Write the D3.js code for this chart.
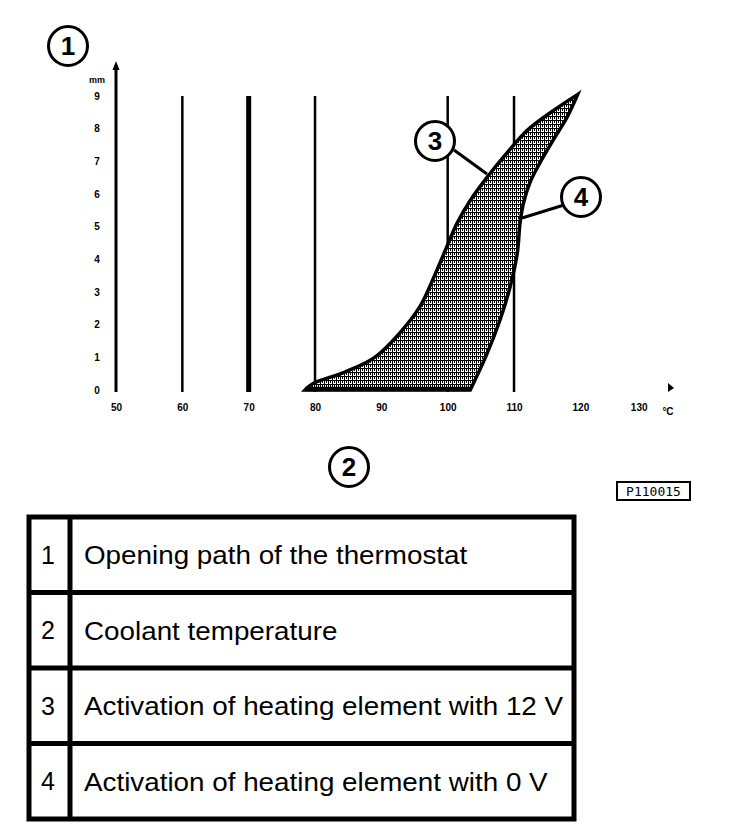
<!DOCTYPE html>
<html>
<head>
<meta charset="utf-8">
<script src="https://cdn.jsdelivr.net/npm/d3@7"></script>
<style>
    body { margin: 0; background: #fff; }
    svg { display: block; }
</style>
</head>
<body>
<div class="data_figure"></div>
<script>
const width = 752;
const height = 834;

// tick values
const xTicks = [50, 60, 70, 80, 90, 100, 110, 120, 130];
const yTicks = [0, 1, 2, 3, 4, 5, 6, 7, 8, 9];

// vertical reference lines (degC) and whether they are drawn heavy
const refLines = [60, 70, 80, 100, 110];
const heavyLines = [70];

// curve 3: heating element at 12 V (temperature, opening in mm)
const curve12V = [
    [78.5, 0], [79.7, 0.2], [84.5, 0.55], [89.0, 1.0], [92.8, 1.75],
    [95.8, 2.55], [97.8, 3.4], [99.9, 4.4], [101.4, 5.1], [103.4, 5.8],
    [105.9, 6.5], [108.9, 7.25], [112.0, 7.95], [115.9, 8.55], [119.6, 9.05]
];
// curve 4: heating element at 0 V
const curve0V = [
    [103.4, 0], [105.9, 1.1], [107.9, 2.15], [109.4, 3.15], [110.5, 4.2],
    [110.9, 5.1], [111.4, 5.7], [112.4, 6.35], [113.9, 6.95], [115.9, 7.65],
    [118.0, 8.35], [119.6, 9.05]
];

// legend table
const legendNums = ["1", "2", "3", "4"];
const legendTexts = [
    "Opening path of the thermostat",
    "Coolant temperature",
    "Activation of heating element with 12 V",
    "Activation of heating element with 0 V"
];

const xScale = d3.scaleLinear().domain([50, 130]).range([116, 646.7]);
const yScale = d3.scaleLinear().domain([0, 9]).range([390, 96]);

let svg = d3.select(".data_figure")
            .append("svg")
            .attr("width", width)
            .attr("height", height);

// fill pattern for the area between the two curves
let defs = svg.append("defs");
let pat = defs.append("pattern")
    .attr("id", "hatch")
    .attr("patternUnits", "userSpaceOnUse")
    .attr("width", 4)
    .attr("height", 4);
pat.append("rect").attr("width", 4).attr("height", 4).attr("fill", "#fff");
pat.append("rect").attr("x", 0).attr("y", 0).attr("width", 1).attr("height", 4).attr("fill", "#000");
pat.append("rect").attr("x", 0).attr("y", 0).attr("width", 4).attr("height", 1).attr("fill", "#000");
pat.append("rect").attr("x", 2).attr("y", 2).attr("width", 1).attr("height", 1).attr("fill", "#000");
pat.append("rect").attr("x", 2).attr("y", 1).attr("width", 1).attr("height", 1).attr("fill", "#000");

// vertical reference lines
svg.selectAll(".refline")
    .data(refLines)
    .enter()
    .append("line")
    .attr("class", "refline")
    .attr("x1", (d) => xScale(d))
    .attr("x2", (d) => xScale(d))
    .attr("y1", yScale(9))
    .attr("y2", yScale(-0.06))
    .attr("stroke", "#000")
    .attr("stroke-width", (d) => heavyLines.includes(d) ? 5 : 2.5);

// y axis with arrow
svg.append("line")
    .attr("x1", xScale(50)).attr("x2", xScale(50))
    .attr("y1", yScale(-0.06)).attr("y2", 66)
    .attr("stroke", "#000").attr("stroke-width", 3);
svg.append("path")
    .attr("d", d3.line()([[xScale(50) - 3.5, 70], [xScale(50), 61], [xScale(50) + 3.5, 70]]) + "Z")
    .attr("fill", "#000");

// x axis arrow tip
svg.append("path")
    .attr("d", d3.line()([[668, 383], [674, 388], [668, 392]]) + "Z")
    .attr("fill", "#000");

// axis tick labels
let yAxis = svg.append("g")
    .attr("transform", "translate(104,0)")
    .call(d3.axisLeft(yScale).tickValues(yTicks).tickSize(0).tickPadding(4));
yAxis.select(".domain").remove();
yAxis.selectAll("text")
    .attr("text-anchor", "middle")
    .attr("x", -7)
    .style("font-family", "'Liberation Sans', Arial, sans-serif")
    .style("font-size", "10px")
    .style("font-weight", "bold");

svg.append("text")
    .text("mm")
    .attr("x", 97)
    .attr("y", 83)
    .attr("text-anchor", "middle")
    .style("font-family", "'Liberation Sans', Arial, sans-serif")
    .style("font-size", "9px")
    .style("font-weight", "bold");

let xAxis = svg.append("g")
    .attr("transform", "translate(0,404)")
    .call(d3.axisBottom(xScale).tickValues(xTicks).tickSize(0).tickPadding(0));
xAxis.select(".domain").remove();
xAxis.selectAll("text")
    .attr("dx", (d) => d === 130 ? "-8" : "0")
    .style("font-family", "'Liberation Sans', Arial, sans-serif")
    .style("font-size", "10px")
    .style("font-weight", "bold");

svg.append("text")
    .text("°C")
    .attr("x", 668)
    .attr("y", 415)
    .attr("text-anchor", "middle")
    .style("font-family", "'Liberation Sans', Arial, sans-serif")
    .style("font-size", "10px")
    .style("font-weight", "bold");

// area between the curves
const line = d3.line()
    .x((d) => xScale(d[0]))
    .y((d) => yScale(d[1]))
    .curve(d3.curveCatmullRom);

const upPath = line(curve12V);
const downPath = line(curve0V.slice().reverse()).replace(/^M/, "L");

svg.append("path")
    .attr("d", upPath + downPath + "Z")
    .attr("fill", "url(#hatch)")
    .attr("stroke", "#000")
    .attr("stroke-width", 3.5)
    .attr("stroke-linejoin", "miter");

svg.append("line")
    .attr("x1", xScale(curve12V[0][0]))
    .attr("x2", xScale(curve0V[0][0]))
    .attr("y1", yScale(0) - 1)
    .attr("y2", yScale(0) - 1)
    .attr("stroke", "#000")
    .attr("stroke-width", 4.5);

// leader lines for callouts 3 and 4
svg.append("path")
    .attr("d", d3.line()([[454, 150], [487, 174]]))
    .attr("stroke", "#000").attr("stroke-width", 3).attr("fill", "none");
svg.append("path")
    .attr("d", d3.line()([[564, 205], [522, 218]]))
    .attr("stroke", "#000").attr("stroke-width", 3).attr("fill", "none");

// circled callout numbers
const callouts = [
    { label: "1", x: 68, y: 46 },
    { label: "2", x: 349, y: 467 },
    { label: "3", x: 435, y: 141 },
    { label: "4", x: 581, y: 197 }
];

let callG = svg.selectAll(".callout")
    .data(callouts)
    .enter()
    .append("g")
    .attr("class", "callout")
    .attr("transform", (d) => "translate(" + d.x + "," + d.y + ")");

callG.append("circle")
    .attr("r", 19.5)
    .attr("fill", "#fff")
    .attr("stroke", "#000")
    .attr("stroke-width", 3);

callG.append("text")
    .text((d) => d.label)
    .attr("text-anchor", "middle")
    .attr("dy", "0.36em")
    .style("font-family", "'Liberation Sans', Arial, sans-serif")
    .style("font-size", "26px")
    .style("font-weight", "bold");

// figure reference box
svg.append("rect")
    .attr("x", 617).attr("y", 482)
    .attr("width", 73).attr("height", 18)
    .attr("fill", "#fff").attr("stroke", "#000").attr("stroke-width", 2);
svg.append("text")
    .text("P110015")
    .attr("x", 653.5).attr("y", 496)
    .attr("text-anchor", "middle")
    .style("font-family", "'DejaVu Sans Mono', monospace")
    .style("font-size", "13px");

// legend table
const tableTop = 517, rowH = 75.5, tableLeft = 29, tableRight = 574, colX = 70;

let table = svg.append("g").attr("id", "legend");

table.append("rect")
    .attr("x", tableLeft).attr("y", tableTop)
    .attr("width", tableRight - tableLeft)
    .attr("height", rowH * legendTexts.length)
    .attr("fill", "none").attr("stroke", "#000").attr("stroke-width", 5);

table.append("line")
    .attr("x1", colX).attr("x2", colX)
    .attr("y1", tableTop).attr("y2", tableTop + rowH * legendTexts.length)
    .attr("stroke", "#000").attr("stroke-width", 5);

table.selectAll(".rowline")
    .data(legendTexts.slice(1))
    .enter()
    .append("line")
    .attr("class", "rowline")
    .attr("x1", tableLeft).attr("x2", tableRight)
    .attr("y1", (d, i) => tableTop + rowH * (i + 1))
    .attr("y2", (d, i) => tableTop + rowH * (i + 1))
    .attr("stroke", "#000").attr("stroke-width", 5);

table.selectAll(".rownum")
    .data(legendNums)
    .enter()
    .append("text")
    .attr("class", "rownum")
    .text((d) => d)
    .attr("x", 48)
    .attr("y", (d, i) => tableTop + rowH * i + rowH / 2)
    .attr("dy", "0.36em")
    .attr("text-anchor", "middle")
    .style("font-family", "'Liberation Sans', Arial, sans-serif")
    .style("font-size", "25px");

// the source lettering is a little wider than plain Arial
table.selectAll(".rowtext")
    .data(legendTexts)
    .enter()
    .append("text")
    .attr("class", "rowtext")
    .text((d) => d)
    .attr("transform", (d, i) => "translate(84," + (tableTop + rowH * i + rowH / 2) + ") scale(1.07,1)")
    .attr("dy", "0.36em")
    .style("font-family", "'Liberation Sans', Arial, sans-serif")
    .style("font-size", "26px");
</script>
</body>
</html>
